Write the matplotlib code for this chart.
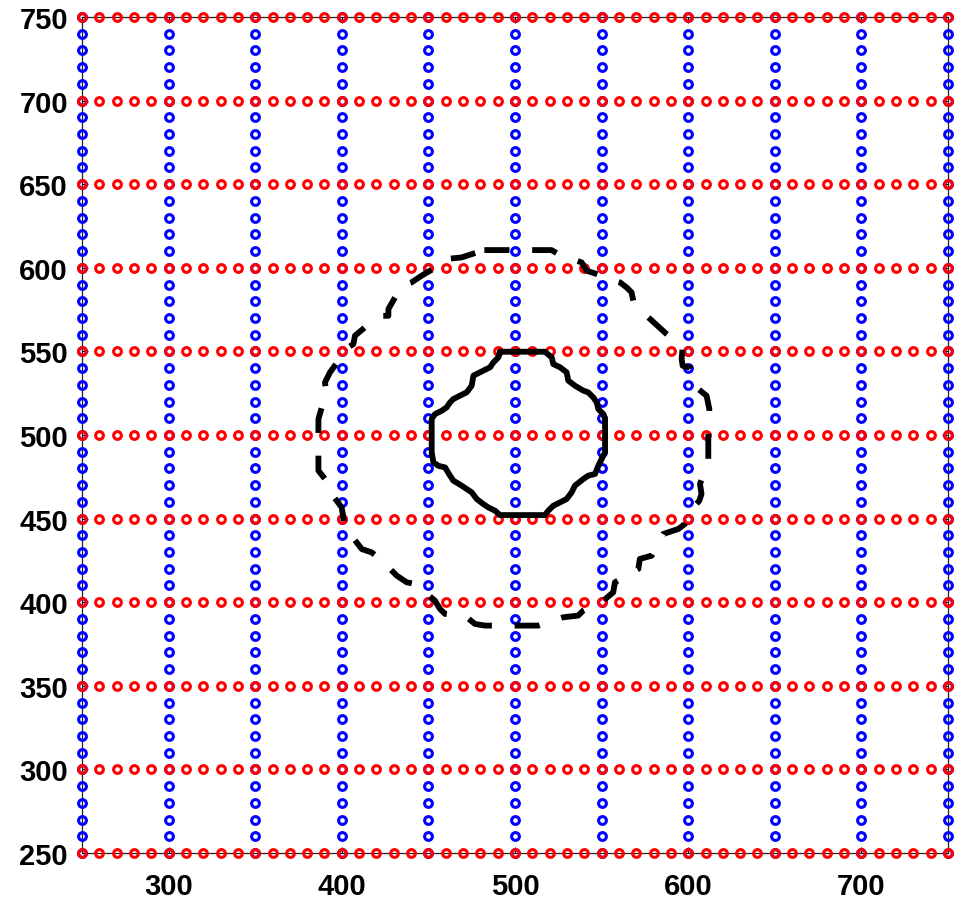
import numpy as np
import matplotlib
matplotlib.use("Agg")
import matplotlib.pyplot as plt

# ---- data ----
grid_lines = [250, 300, 350, 400, 450, 500, 550, 600, 650, 700, 750]
sample_pts = list(range(250, 751, 10))
x_ticks = [300, 400, 500, 600, 700]
y_ticks = [250, 300, 350, 400, 450, 500, 550, 600, 650, 700, 750]

inner_x = [491.3, 517.3, 521.2, 522.1, 526.0, 529.8, 530.8, 534.6, 539.5, 542.3, 545.2, 547.2,
           548.1, 551.0, 552.0, 552.0, 550.0, 548.1, 546.2, 542.3, 539.5, 534.6, 532.7, 529.8,
           526.0, 522.1, 519.2, 517.3, 491.3, 488.5, 484.6, 481.7, 477.9, 475.0, 472.1, 469.2,
           464.4, 462.5, 459.6, 455.7, 452.9, 451.9, 451.9, 453.8, 457.7, 460.5, 462.5, 464.4,
           468.2, 472.1, 475.0, 476.0, 479.8, 485.6, 487.5, 490.4, 491.3]
inner_y = [549.8, 549.8, 546.4, 542.4, 540.5, 537.5, 532.5, 529.5, 526.5, 525.5, 522.5, 519.5,
           515.5, 512.5, 509.6, 489.6, 485.6, 481.6, 476.7, 475.7, 473.7, 469.7, 465.7, 461.7,
           459.7, 457.7, 454.7, 452.1, 452.1, 454.7, 456.7, 458.7, 461.7, 465.7, 467.7, 469.7,
           472.7, 475.7, 480.6, 481.6, 483.6, 489.6, 509.6, 512.5, 514.5, 516.5, 519.5, 521.5,
           523.5, 525.5, 529.5, 535.5, 537.5, 540.5, 543.4, 546.4, 549.8]

outer_x = [482.3, 496.5, 511.5, 521.1, 525.0, 538.5, 541.3, 547.1, 560.6, 564.4, 567.3, 568.3,
           576.9, 587.5, 596.8, 596.2, 596.8, 601.0, 605.8, 610.6, 612.2, 611.6, 611.6, 606.8,
           607.7, 606.4, 603.9, 598.1, 594.3, 585.6, 578.9, 572.1, 571.2, 557.7, 556.7, 551.0,
           539.4, 536.5, 527.9, 513.4, 499.0, 482.7, 476.9, 472.1, 459.6, 456.7, 453.8, 442.3,
           437.5, 431.7, 422.1, 417.2, 411.5, 401.9, 400.9, 399.9, 391.3, 390.3, 386.5, 386.5,
           386.5, 390.9, 390.3, 393.2, 400.9, 403.8, 406.7, 407.6, 419.2, 423.0, 426.9, 426.9,
           434.6, 440.3, 443.2, 446.1, 455.7, 460.5, 469.2, 482.3]
outer_y = [610.6, 610.6, 610.6, 610.6, 608.2, 603.2, 598.3, 596.3, 591.3, 588.3, 585.3, 580.3,
           570.4, 560.4, 552.4, 545.4, 541.4, 540.4, 527.5, 523.5, 515.5, 499.6, 484.7, 470.7,
           464.7, 460.7, 457.7, 446.8, 443.8, 440.8, 427.8, 425.9, 419.9, 411.9, 405.9, 400.9,
           395.0, 392.0, 391.0, 386.0, 386.0, 386.0, 387.0, 391.0, 393.0, 396.0, 400.9, 410.9,
           411.9, 415.9, 425.9, 429.8, 431.8, 444.8, 450.8, 456.7, 468.7, 473.7, 478.7, 497.0,
           509.5, 525.5, 531.5, 537.5, 548.4, 552.4, 554.4, 559.4, 569.4, 571.3, 571.3, 575.3,
           589.3, 591.3, 593.3, 595.3, 601.2, 605.3, 606.2, 610.6]

# ---- figure ----
fig = plt.figure(figsize=(9.56, 9.04), dpi=100)
ax = fig.add_axes([82/956, 50/904, 866/956, 836/904])

ms, mew = 5.6, 2.2
for gx in grid_lines:
    ax.plot([gx]*len(sample_pts), sample_pts, linestyle='none', marker='o',
            markersize=ms, markerfacecolor='none', markeredgecolor=(0, 0, 1),
            markeredgewidth=mew, zorder=2, clip_on=False)
for gy in grid_lines:
    ax.plot(sample_pts, [gy]*len(sample_pts), linestyle='none', marker='o',
            markersize=ms, markerfacecolor='none', markeredgecolor=(1, 0, 0),
            markeredgewidth=mew, zorder=3, clip_on=False)

ax.plot(inner_x, inner_y, color='black', linewidth=4.2, solid_joinstyle='round',
        solid_capstyle='round', zorder=4)
ax.plot(outer_x, outer_y, color='black', linewidth=4.2, linestyle=(0, (4.3, 3.9)),
        dash_capstyle='butt', dash_joinstyle='round', zorder=4)

ax.set_xlim(250, 750)
ax.set_ylim(250, 750)
ax.set_xticks(x_ticks)
ax.set_yticks(y_ticks)
ax.set_xticklabels([str(v) for v in x_ticks])
ax.set_yticklabels([str(v) for v in y_ticks])
ax.tick_params(direction='in', length=4, width=0.8, top=True, right=True,
               labelsize=21)
ax.tick_params(axis='x', pad=14)
ax.tick_params(axis='y', pad=10)
for lab in ax.get_xticklabels() + ax.get_yticklabels():
    lab.set_fontweight('bold')
    lab.set_fontfamily('Liberation Sans')
for sp in ax.spines.values():
    sp.set_linewidth(0.9)
    sp.set_color('#222222')
    sp.set_zorder(1)

fig.savefig('out.png', dpi=100)
